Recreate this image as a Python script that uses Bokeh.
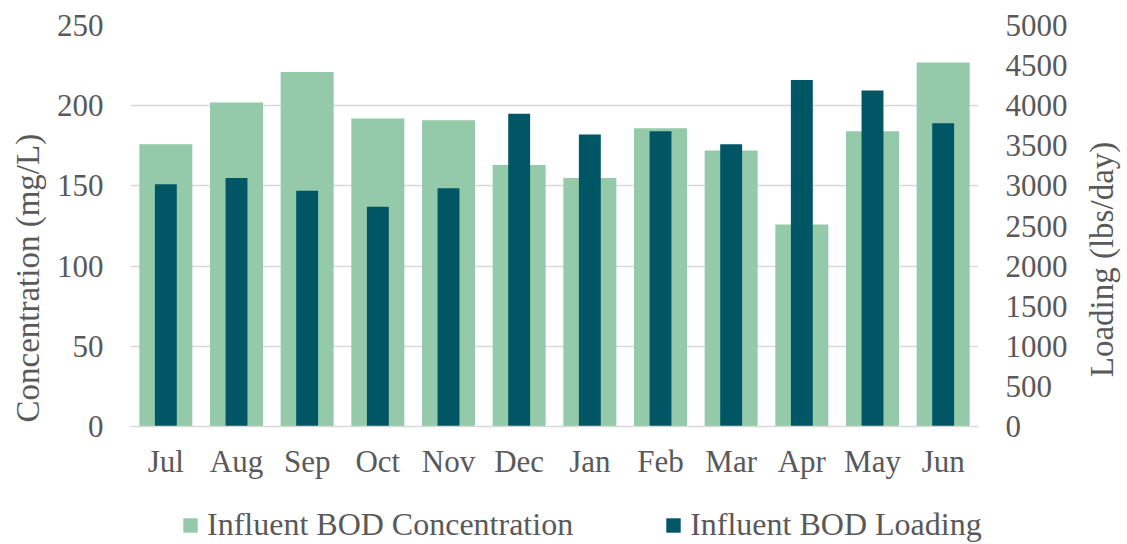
import math
from bokeh.plotting import figure
from bokeh.layouts import column, row
from bokeh.models import (FactorRange, Range1d, LinearAxis, FixedTicker, Legend,
                          LegendItem, Title, Label, ColumnDataSource)
from bokeh.embed import file_html
from bokeh.resources import INLINE

months = ["Jul", "Aug", "Sep", "Oct", "Nov", "Dec", "Jan", "Feb", "Mar", "Apr", "May", "Jun"]
concentration = [176, 202, 221, 192, 191, 163, 155, 186, 172, 126, 184, 227]
loading = [3020, 3100, 2940, 2740, 2970, 3900, 3640, 3680, 3520, 4320, 4190, 3780]
left_ticks = [0, 50, 100, 150, 200, 250]
right_ticks = [0, 500, 1000, 1500, 2000, 2500, 3000, 3500, 4000, 4500, 5000]

LIGHT = "#94CAA9"
DARK = "#015666"
TEXT = "#595959"
GRID = "#D9D9D9"
FONT = "Liberation Serif"

src = ColumnDataSource(dict(month=months, conc=concentration, load=loading))

MAIN_H = 25 + 401 + 55
MAIN_W = 130 + 848 + 92

p = figure(x_range=FactorRange(*months), y_range=Range1d(0, 250),
           frame_width=848, frame_height=401,
           min_border_left=130, min_border_right=92, min_border_top=25, min_border_bottom=55,
           output_backend="svg", toolbar_location=None)
p.extra_y_ranges = {"load": Range1d(0, 5000)}

r1 = p.vbar(x="month", top="conc", width=0.75, source=src, fill_color=LIGHT, line_color=None)
r2 = p.vbar(x="month", top="load", width=0.31, source=src, fill_color=DARK, line_color=None,
            y_range_name="load")

p.outline_line_color = None
p.xgrid.grid_line_color = None
p.ygrid.grid_line_color = GRID
p.ygrid.grid_line_width = 1.5
p.yaxis.ticker = FixedTicker(ticks=left_ticks)

raxis = LinearAxis(y_range_name="load", ticker=FixedTicker(ticks=right_ticks))
p.add_layout(raxis, "right")

for ax in [p.yaxis[0], raxis]:
    ax.axis_line_color = None
    ax.major_tick_line_color = None
    ax.minor_tick_line_color = None
    ax.major_tick_out = 0
    ax.minor_tick_out = 0
    ax.major_label_text_font = FONT
    ax.major_label_text_font_size = "31px"
    ax.major_label_text_color = TEXT
    ax.major_label_standoff = 27

xa = p.xaxis[0]
xa.axis_line_color = GRID
xa.axis_line_width = 1.5
xa.major_tick_line_color = None
xa.minor_tick_line_color = None
xa.major_tick_out = 0
xa.minor_tick_out = 0
xa.major_label_text_font = FONT
xa.major_label_text_font_size = "31px"
xa.major_label_text_color = TEXT
xa.major_label_standoff = 17

lt = Title(text="Concentration (mg/L)", align="left", offset=4, standoff=14,
           vertical_align="middle", text_font=FONT, text_font_size="33px",
           text_font_style="normal", text_color=TEXT)
p.add_layout(lt, "left")


def blank(width, height, x_range, y_range):
    f = figure(width=width, height=height, x_range=x_range, y_range=y_range,
               min_border=0, output_backend="svg", toolbar_location=None)
    f.axis.visible = False
    f.grid.grid_line_color = None
    f.outline_line_color = None
    return f


# right axis title panel
tfig = blank(1127 - MAIN_W, MAIN_H, Range1d(0, 1), Range1d(0, 1))
tfig.add_layout(Label(x=31, y=167, x_units="screen", y_units="screen",
                      text="Loading (lbs/day)", angle=math.pi / 2,
                      text_align="center", text_baseline="middle",
                      text_font=FONT, text_font_size="33px", text_color=TEXT))

# legend panel (its bars are hidden; only the legend shows)
LEG_H = 62
lfig = blank(1127, LEG_H, FactorRange(*months), Range1d(-2, -1))
d1 = lfig.vbar(x="month", top="conc", width=0.75, source=src, fill_color=LIGHT, line_color=None)
d2 = lfig.vbar(x="month", top="load", width=0.31, source=src, fill_color=DARK, line_color=None)
d1.visible = False
d2.visible = False
legend = Legend(items=[LegendItem(label="Influent BOD Concentration", renderers=[d1]),
                       LegendItem(label="Influent BOD Loading", renderers=[d2])],
                orientation="horizontal", location=(181, 0),
                glyph_width=18, glyph_height=18, label_standoff=8, spacing=91,
                padding=0, margin=0, border_line_color=None, background_fill_alpha=0,
                label_text_font=FONT, label_text_font_size="32px", label_text_color=TEXT)
lfig.add_layout(legend, "center")

layout = column(row(p, tfig), lfig)
open("out.html", "w").write(file_html(layout, INLINE))
